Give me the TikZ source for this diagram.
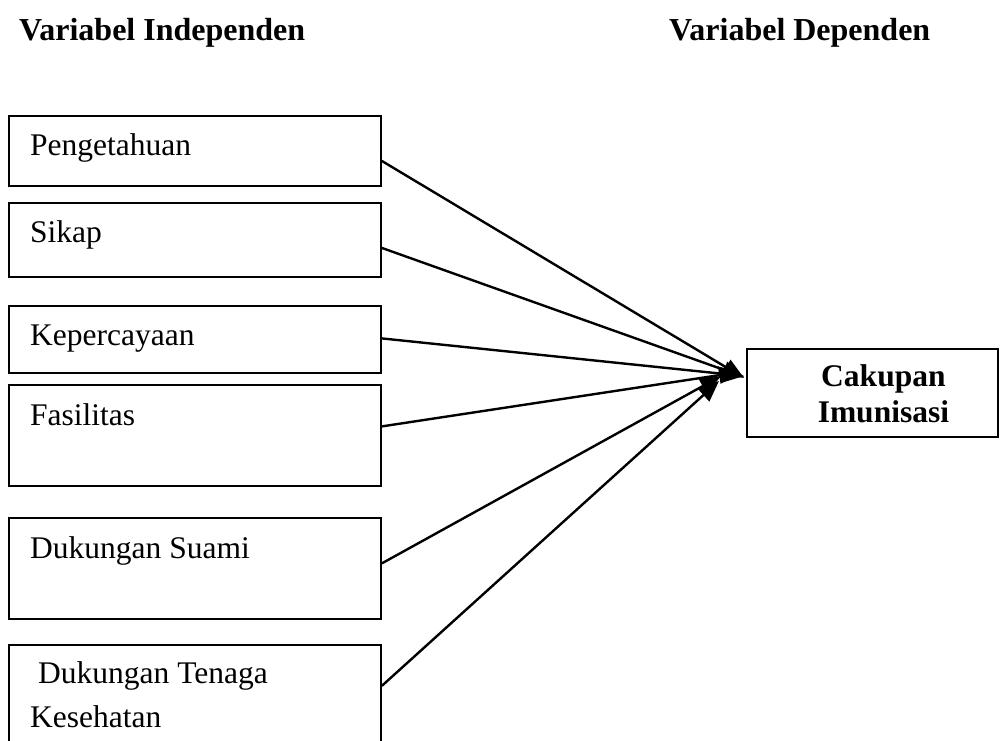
\documentclass[tikz,border=0pt]{standalone}
\usepackage{fontspec}
\setmainfont{Liberation Serif}
\usetikzlibrary{arrows.meta}

\begin{document}
\begin{tikzpicture}[x=1pt, y=-1pt,
  every node/.style={font=\fontsize{31.5}{38}\selectfont},
  box/.style={draw, line width=1.8pt, inner sep=0pt, anchor=north west},
  lbl/.style={anchor=base west, inner sep=0pt},
  hdr/.style={anchor=base west, inner sep=0pt, font=\fontsize{32}{38}\selectfont\bfseries},
  arr/.style={line width=2.4pt, -{Triangle[length=21pt, width=17pt]}}]
  \useasboundingbox (0,0) rectangle (1002,740);
  \clip (0,0) rectangle (1002,740);
  % headings
  \node[hdr] (hInd) at (19,40) {Variabel Independen};
  \node[hdr] (hDep) at (669,40) {Variabel Dependen};
  % independent variables
  \node[box, minimum width=372pt, minimum height=70pt] (peng) at (8,115) {};
  \node[box, minimum width=372pt, minimum height=74pt] (sikap) at (8,202) {};
  \node[box, minimum width=372pt, minimum height=67pt] (percaya) at (8,305) {};
  \node[box, minimum width=372pt, minimum height=101pt] (fasil) at (8,384) {};
  \node[box, minimum width=372pt, minimum height=101pt] (suami) at (8,517) {};
  \node[box, minimum width=372pt, minimum height=120pt] (nakes) at (8,644) {};
  \node[lbl] (tPeng) at ([xshift=22pt, yshift=-40pt]peng.north west) {Pengetahuan};
  \node[lbl] (tSikap) at ([xshift=22pt, yshift=-40pt]sikap.north west) {Sikap};
  \node[lbl] (tPercaya) at ([xshift=22pt, yshift=-40pt]percaya.north west) {Kepercayaan};
  \node[lbl] (tFasil) at ([xshift=22pt, yshift=-41pt]fasil.north west) {Fasilitas};
  \node[lbl] (tSuami) at ([xshift=22pt, yshift=-41pt]suami.north west) {Dukungan Suami};
  \node[lbl] (tNakes) at ([xshift=30pt, yshift=-39pt]nakes.north west) {Dukungan Tenaga};
  \node[lbl] (tNakes2) at ([xshift=22pt, yshift=-83pt]nakes.north west) {Kesehatan};
  % dependent variable
  \node[box, minimum width=251pt, minimum height=88pt] (cakupan) at (746,348) {};
  \node[font=\fontsize{31.5}{36}\selectfont\bfseries, align=center, inner sep=0pt] (tCakupan)
    at ([xshift=11pt, yshift=-1pt]cakupan.center) {Cakupan\\Imunisasi};
  % arrow ends
  \coordinate (e1) at (744,378);
  \coordinate (e2) at (744,377);
  \coordinate (e3) at (744,376);
  \coordinate (e4) at (740,372);
  \coordinate (e5) at (721,376);
  \coordinate (e6) at (719,381);
  % arrows
  \draw[arr] ([yshift=-10pt]peng.east) -- (e1);
  \draw[arr] ([yshift=-8pt]sikap.east) -- (e2);
  \draw[arr] ([yshift=1pt]percaya.east) -- (e3);
  \draw[arr] ([yshift=9pt]fasil.east) -- (e4);
  \draw[arr] ([yshift=5pt]suami.east) -- (e5);
  \draw[arr] ([yshift=19pt]nakes.east) -- (e6);
\end{tikzpicture}
\end{document}
